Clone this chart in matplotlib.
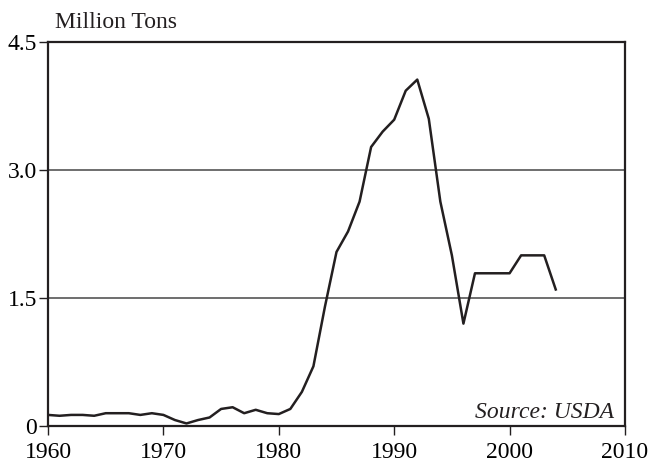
import matplotlib
matplotlib.use('Agg')
import matplotlib.pyplot as plt

# Data (million tons)
years = list(range(1960, 2005))
tons = [0.13, 0.12, 0.13, 0.13, 0.12, 0.15, 0.15, 0.15, 0.13, 0.15,
        0.13, 0.07, 0.03, 0.07, 0.10, 0.20, 0.22, 0.15, 0.19, 0.15,
        0.14, 0.20, 0.40, 0.70, 1.40, 2.04, 2.28, 2.63, 3.27, 3.45,
        3.59, 3.93, 4.06, 3.60, 2.63, 2.00, 1.20, 1.79, 1.79, 1.79,
        1.79, 2.00, 2.00, 2.00, 1.60]

x_ticks = [1960, 1970, 1980, 1990, 2000, 2010]
y_ticks = [0, 1.5, 3.0, 4.5]
y_labels = ['0', '1.5', '3.0', '4.5']

plt.rcParams['font.family'] = ['Liberation Serif', 'DejaVu Serif']

fig = plt.figure(figsize=(6.56, 4.62), dpi=100)
ax = fig.add_axes([0.0732, 0.0779, 0.8795, 0.8311])

for yv in [1.5, 3.0]:
    ax.axhline(yv, color='#555555', lw=1.2, zorder=1)

ax.plot(years, tons, color='#231f20', lw=1.8, zorder=3)

ax.set_xlim(1960, 2010)
ax.set_ylim(0, 4.5)
ax.set_xticks(x_ticks)
ax.set_yticks(y_ticks)
ax.set_yticklabels(y_labels)
ax.tick_params(direction='out', length=6.5, width=1, labelsize=17, color='#231f20')
ax.tick_params(axis='x', pad=5)
ax.tick_params(axis='y', pad=1.5)
for s in ax.spines.values():
    s.set_linewidth(1.6)
    s.set_color('#231f20')

fig.text(0.084, 0.952, 'Million Tons', fontsize=17, ha='left', va='center', color='#231f20')
ax.text(0.981, 0.022, 'Source: USDA', transform=ax.transAxes, fontsize=17,
        style='italic', ha='right', va='baseline', color='#231f20')

fig.savefig('out.png', dpi=100)
